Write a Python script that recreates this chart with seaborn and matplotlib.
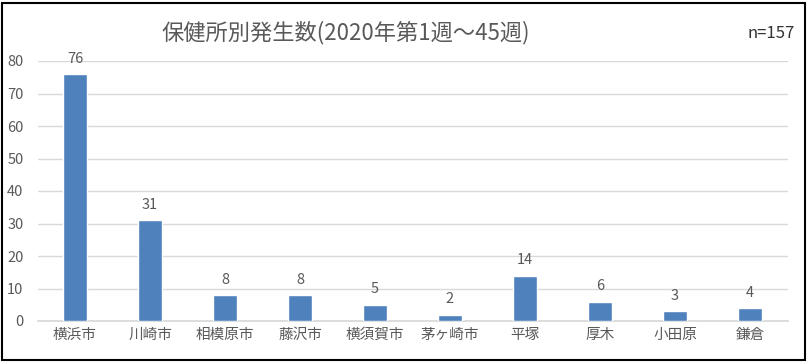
import matplotlib
matplotlib.use("Agg")
from matplotlib import pyplot as plt
from matplotlib.patches import Rectangle
import pandas as pd
import seaborn as sns

# 保健所別発生数
offices = ["横浜市", "川崎市", "相模原市", "藤沢市", "横須賀市", "茅ヶ崎市", "平塚", "厚木", "小田原", "鎌倉"]
counts = [76, 31, 8, 8, 5, 2, 14, 6, 3, 4]
title = "保健所別発生数(2020年第1週～45週)"
total_label = "n=157"

df = pd.DataFrame({"office": offices, "count": counts})

sns.set_theme(style="white")
plt.rcParams["font.family"] = ["Noto Sans CJK JP", "DejaVu Sans"]

text_col = "#595959"
fig = plt.figure(figsize=(8.08, 3.62), dpi=100)
ax = fig.add_axes([37.5 / 808, 1 - 321 / 362, 750 / 808, 260 / 362])

sns.barplot(data=df, x="office", y="count", color="#4F81BD", saturation=1,
            width=0.32, ax=ax, zorder=3)

ax.set_ylim(0, 80)
ax.set_yticks(range(0, 81, 10))
ax.set_xlim(-0.5, len(offices) - 0.5)
ax.yaxis.grid(True, color="#D9D9D9", linewidth=1, zorder=0)
ax.set_axisbelow(True)
for s in ["top", "right", "left"]:
    ax.spines[s].set_visible(False)
ax.spines["bottom"].set_color("#D9D9D9")
ax.set_xlabel("")
ax.set_ylabel("")
ax.tick_params(axis="both", length=0, labelsize=10.5, labelcolor=text_col)
ax.tick_params(axis="x", pad=5)
ax.tick_params(axis="y", pad=10)

for container in ax.containers:
    ax.bar_label(container, padding=6, fontsize=10.5, color=text_col)

fig.text(346 / 808, 1 - 33 / 362, title, ha="center", va="center",
         fontsize=16, color=text_col)
fig.text(771 / 808, 1 - 33 / 362, total_label, ha="center", va="center",
         fontsize=12, color="#333333")

fig.patches.append(Rectangle((2 / 808, 2 / 362), 803 / 808, 357 / 362,
                             transform=fig.transFigure, fill=False,
                             edgecolor="black", linewidth=1.5))

fig.savefig("out.png", dpi=100)
plt.close(fig)
